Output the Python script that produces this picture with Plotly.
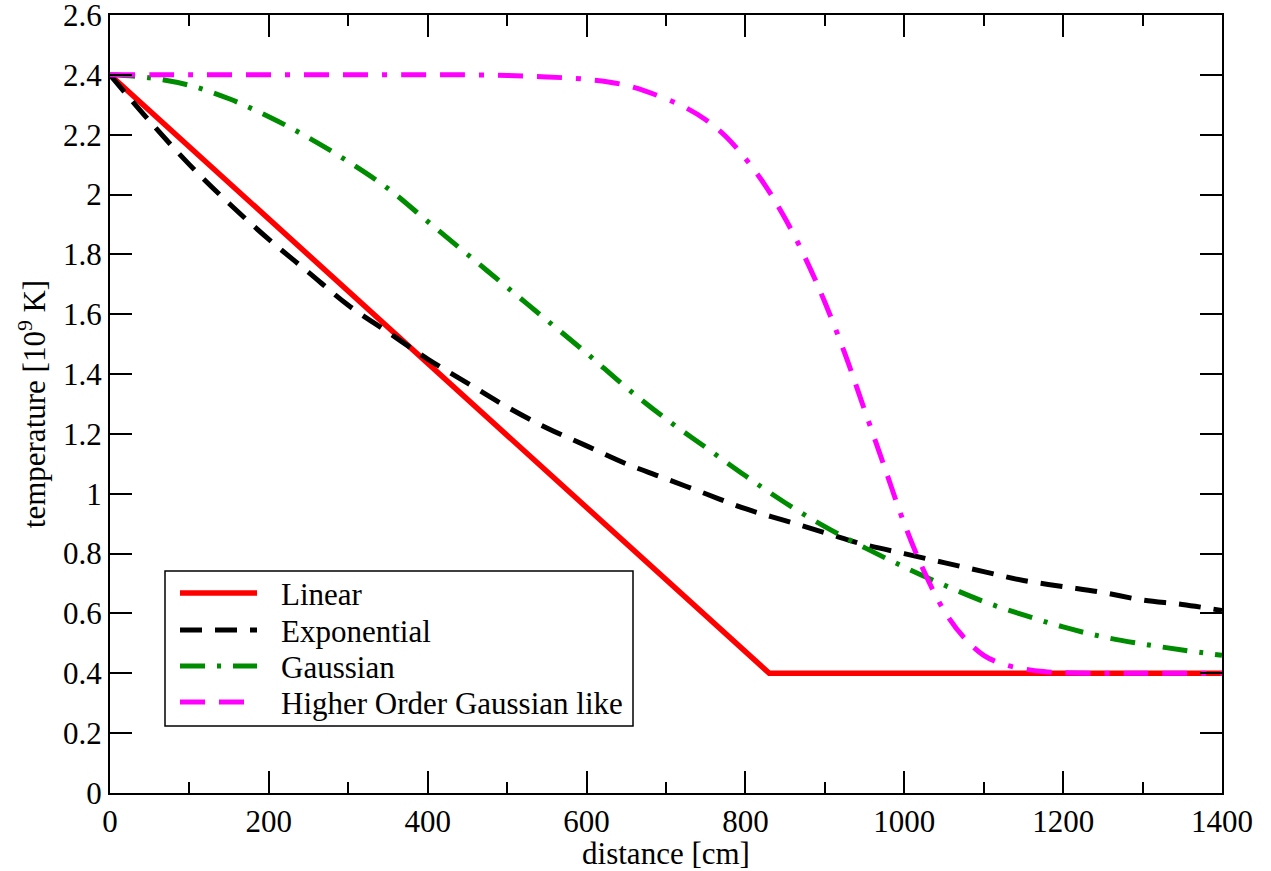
import plotly.graph_objects as go

# ---- data ----
lin_x = [0, 830, 1400]
lin_y = [2.4, 0.4, 0.4]

dist = [0, 50, 100, 150, 200, 250, 300, 350, 400, 450, 500, 550, 600, 650, 700,
        750, 800, 850, 900, 950, 1000, 1050, 1100, 1150, 1200, 1250, 1300, 1350, 1400]

exp_y = [2.40, 2.245, 2.10, 1.97, 1.85, 1.74, 1.63, 1.54, 1.45, 1.37, 1.29, 1.22, 1.16, 1.10, 1.05,
         1.00, 0.95, 0.91, 0.87, 0.83, 0.80, 0.77, 0.74, 0.71, 0.69, 0.67, 0.645, 0.63, 0.61]

gau_y = [2.40, 2.39, 2.365, 2.32, 2.26, 2.19, 2.11, 2.02, 1.91, 1.80, 1.69, 1.58, 1.47, 1.355, 1.25,
         1.155, 1.06, 0.97, 0.89, 0.82, 0.755, 0.695, 0.64, 0.595, 0.555, 0.522, 0.498, 0.478, 0.46]

hog_x = [0, 100, 200, 300, 400, 450, 500, 550, 600, 650, 700, 725, 750, 775, 800, 825, 850,
         875, 900, 925, 950, 975, 1000, 1025, 1050, 1075, 1100, 1125, 1150, 1175, 1200, 1300, 1400]
hog_y = [2.40, 2.40, 2.40, 2.40, 2.40, 2.40, 2.398, 2.393, 2.385, 2.365, 2.32, 2.29, 2.25, 2.195, 2.12,
         2.03, 1.92, 1.79, 1.64, 1.47, 1.28, 1.09, 0.90, 0.74, 0.61, 0.52, 0.46, 0.43, 0.415, 0.406, 0.402, 0.40, 0.40]

x_ticks = [0, 200, 400, 600, 800, 1000, 1200, 1400]
y_ticks = [0, 0.2, 0.4, 0.6, 0.8, 1, 1.2, 1.4, 1.6, 1.8, 2, 2.2, 2.4, 2.6]
y_ticktext = ["0", "0.2", "0.4", "0.6", "0.8", "1", "1.2", "1.4", "1.6", "1.8", "2", "2.2", "2.4", "2.6"]

names = ["Linear", "Exponential", "Gaussian", "Higher Order Gaussian like"]
colors = ["#ff0000", "#000000", "#008c00", "#ff00ff"]
dashes = ["solid", "22px,13px", "25px,12px,4px,12px", "25px,14px,25px,14px,5px,14px"]
widths = [5.5, 5, 5, 5]

FONT = "Liberation Serif, Times New Roman, serif"
FS = 31

fig = go.Figure()
series = [(lin_x, lin_y, "linear"), (dist, exp_y, "spline"), (dist, gau_y, "spline"), (hog_x, hog_y, "spline")]
for (xs, ys, shp), nm, c, d, w in zip(series, names, colors, dashes, widths):
    fig.add_trace(go.Scatter(x=xs, y=ys, mode="lines", name=nm, line_shape=shp,
                             showlegend=False, line=dict(color=c, width=w, dash=d)))

axis_common = dict(showline=True, linecolor="black", linewidth=2, mirror="allticks",
                   ticks="inside", ticklen=22, tickwidth=1.5, tickcolor="black",
                   showgrid=False, zeroline=False, ticklabeloverflow="allow", automargin=False,
                   tickfont=dict(family=FONT, size=FS, color="black"))

fig.update_xaxes(range=[0, 1400], tickmode="array", tickvals=x_ticks,
                 ticktext=[str(v) for v in x_ticks],
                 minor=dict(dtick=100, tick0=0, ticks="inside", ticklen=11, tickwidth=1.5,
                            tickcolor="black", showgrid=False),
                 title=dict(text="distance [cm]", font=dict(family=FONT, size=FS, color="black"), standoff=0),
                 **axis_common)
fig.update_yaxes(range=[0, 2.6], tickmode="array", tickvals=y_ticks, ticktext=y_ticktext,
                 title=dict(text="temperature [10<sup>9</sup> K]", font=dict(family=FONT, size=FS, color="black"), standoff=8),
                 **axis_common)

# ---- hand-built legend box (pixel layout converted to paper coords) ----
L, R, T, B = 110, 1222, 15, 793
def px(x):
    return (x - L) / (R - L)
def py(y):
    return (B - y) / (B - T)

shapes = [dict(type="rect", xref="paper", yref="paper",
               x0=px(165), x1=px(633), y0=py(726), y1=py(571),
               line=dict(color="black", width=1.5), fillcolor="white", layer="above")]
annotations = []
rows = [593, 630, 666, 702]
for ry, nm, c, d, w in zip(rows, names, colors, dashes, widths):
    shapes.append(dict(type="line", xref="paper", yref="paper",
                       x0=px(180), x1=px(257), y0=py(ry), y1=py(ry),
                       line=dict(color=c, width=w, dash=d), layer="above"))
    annotations.append(dict(xref="paper", yref="paper", x=px(279), y=py(ry + 1),
                            xanchor="left", yanchor="middle", showarrow=False, text=nm,
                            font=dict(family=FONT, size=FS, color="black")))

fig.update_layout(
    width=1271, height=871,
    margin=dict(l=110, r=49, t=15, b=78, autoexpand=False),
    paper_bgcolor="white", plot_bgcolor="white",
    font=dict(family=FONT, size=FS, color="black"),
    showlegend=False,
    shapes=shapes,
    annotations=annotations,
)

fig.write_html("out.html")
